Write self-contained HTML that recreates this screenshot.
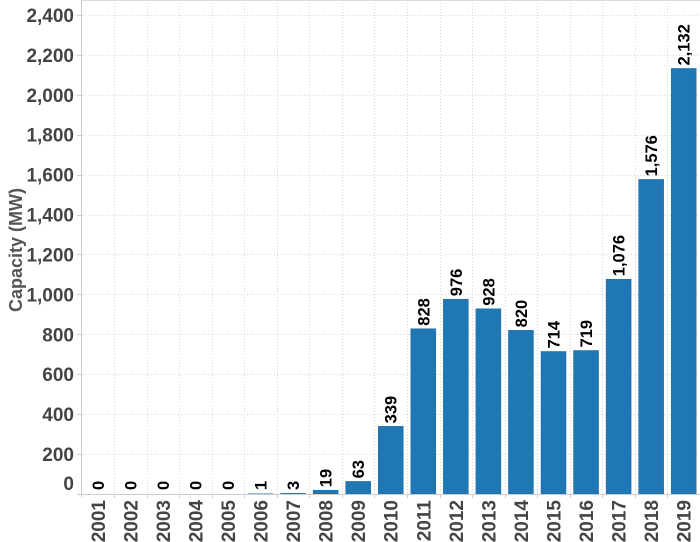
<!DOCTYPE html>
<html><head><meta charset="utf-8"><style>
html,body{margin:0;padding:0;background:#fff;}
svg{display:block;font-family:"Liberation Sans",Arial,sans-serif;}
</style></head><body>
<svg width="700" height="542" viewBox="0 0 700 542" xmlns="http://www.w3.org/2000/svg">
<line x1="81.5" y1="0.5" x2="700" y2="0.5" stroke="#ddd"/>
<g id="grid" stroke="#d6d6d6" stroke-dasharray="1,2" stroke-width="1"></g>
<g id="bars"></g>
<line x1="81.5" y1="0" x2="81.5" y2="497" stroke="#ccc"/>
<line x1="78" y1="494.5" x2="700" y2="494.5" stroke="#ccc"/>
<g id="yl" font-size="19" font-weight="bold" fill="#444" text-anchor="end"></g>
<text transform="translate(22,250) rotate(-90)" text-anchor="middle" font-size="18" font-weight="bold" fill="#555">Capacity (MW)</text>
</svg>
<script>
const ns="http://www.w3.org/2000/svg";
const vals=[0,0,0,0,0,1,3,19,63,339,828,976,928,820,714,719,1076,1576,2132];
const x0=81.5,bw=32.55,base=494,k=0.1996;
const g=document.getElementById('grid'),b=document.getElementById('bars'),yl=document.getElementById('yl');
function el(t,a,p,txt){const e=document.createElementNS(ns,t);for(const q in a)e.setAttribute(q,a[q]);if(txt!==undefined)e.textContent=txt;p.appendChild(e);return e;}
for(let v=200;v<=2400;v+=200){const y=Math.round(base-v*k)+0.5;el('line',{x1:82,y1:y,x2:700,y2:y},g);}
for(let v=0;v<=2400;v+=200){const y=base-v*k;el('line',{x1:77,y1:Math.round(y)+0.5,x2:81,y2:Math.round(y)+0.5,stroke:'#ccc'},yl);el('text',{x:74,y:(v==0?y-4:y+7)},yl,v.toLocaleString('en-US'));}
for(let i=1;i<19;i++){const x=Math.round(x0+i*bw)+0.5;el('line',{x1:x,y1:0,x2:x,y2:494},g);el('line',{x1:x,y1:494,x2:x,y2:498,stroke:'#ccc','stroke-dasharray':'none'},g);}
vals.forEach((v,i)=>{const bx=x0+i*bw+3.8,h=v*k,top=base-h;const cx=x0+i*bw+bw/2;
el('rect',{x:bx,y:top,width:25,height:h,fill:'#1f77b4',stroke:'#1a6aa3','stroke-width':0.5},b);
const ty=Math.min(top-3,490);
el('text',{transform:`translate(${cx+6},${ty}) rotate(-90)`,'font-size':16.5,'font-weight':'bold',fill:'#000'},b,v.toLocaleString('en-US'));
el('text',{transform:`translate(${cx+7},500) rotate(-90)`,'font-size':19,'font-weight':'bold',fill:'#444','text-anchor':'end'},b,String(2001+i));});
</script>
</body></html>
